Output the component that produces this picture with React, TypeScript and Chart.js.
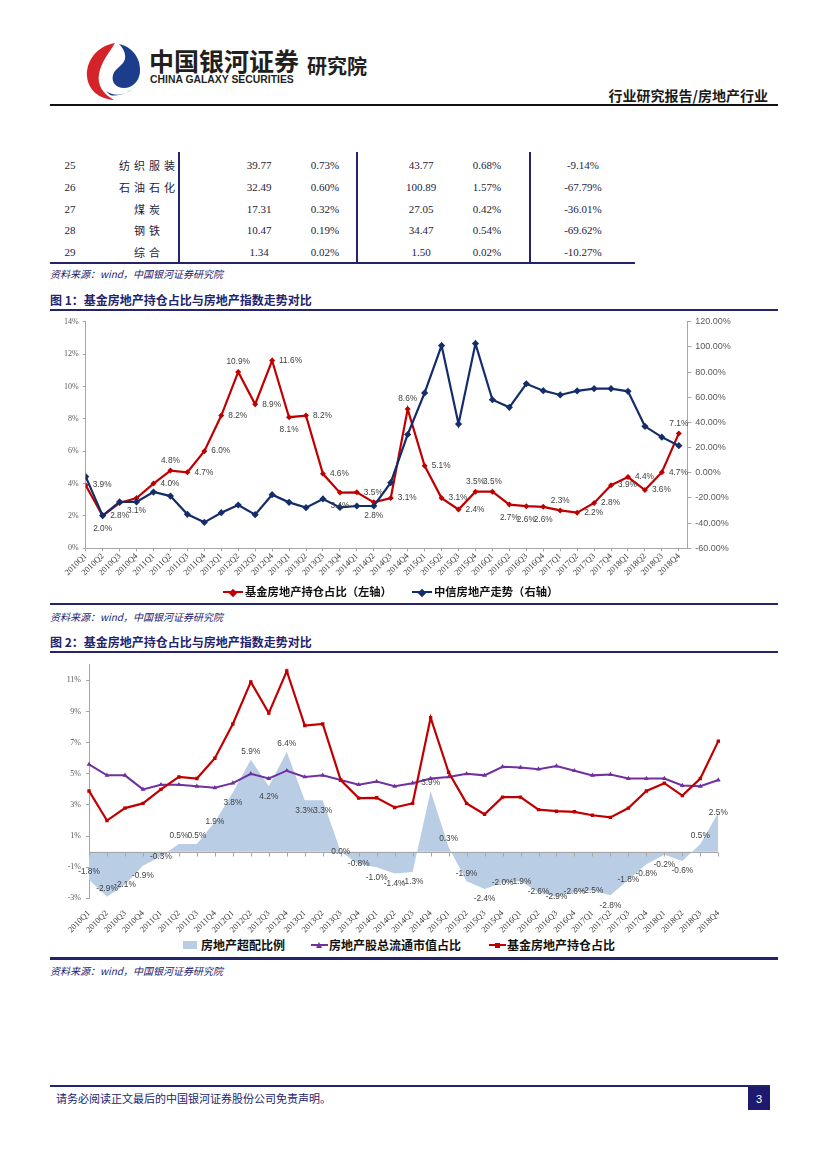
import React, { useEffect, useRef } from 'react';
import { Chart, registerables } from 'chart.js';

Chart.register(...registerables);

// ---------- data ----------
const quarters = [
  '2010Q1', '2010Q2', '2010Q3', '2010Q4', '2011Q1', '2011Q2', '2011Q3', '2011Q4',
  '2012Q1', '2012Q2', '2012Q3', '2012Q4', '2013Q1', '2013Q2', '2013Q3', '2013Q4',
  '2014Q1', '2014Q2', '2014Q3', '2014Q4', '2015Q1', '2015Q2', '2015Q3', '2015Q4',
  '2016Q1', '2016Q2', '2016Q3', '2016Q4', '2017Q1', '2017Q2', '2017Q3', '2017Q4',
  '2018Q1', '2018Q2', '2018Q3', '2018Q4',
];
// 基金房地产持仓占比 (%)
const fundShare = [
  3.9, 2.0, 2.8, 3.1, 4.0, 4.8, 4.7, 6.0, 8.2, 10.9, 8.9, 11.6, 8.1, 8.2, 4.6, 3.44,
  3.46, 2.84, 3.1, 8.6, 5.1, 3.1, 2.4, 3.5, 3.5, 2.7, 2.6, 2.56, 2.34, 2.2, 2.8, 3.9,
  4.4, 3.6, 4.7, 7.1,
];
// 中信房地产走势 (%，右轴)
const citicIndex = [
  -3.1, -34, -23.2, -23.2, -15.3, -18.5, -33, -39.4, -31.7, -25.6, -33.3, -17.4,
  -23.5, -27.7, -20.8, -27.5, -26.4, -26.4, -7.9, 30.4, 63.4, 101, 38.7, 102.6,
  58, 52, 70.7, 65.2, 61.8, 65, 66.8, 66.8, 64.7, 36.9, 28.3, 21.5,
];
// 房地产股总流通市值占比 (%)
const mktCapShare = [
  5.6, 4.9, 4.9, 4.0, 4.3, 4.3, 4.2, 4.1, 4.4, 5.0, 4.7, 5.2, 4.8, 4.9, 4.6, 4.3,
  4.5, 4.2, 4.4, 4.7, 4.8, 5.0, 4.9, 5.45, 5.4, 5.3, 5.5, 5.2, 4.9, 4.95, 4.7, 4.7,
  4.7, 4.25, 4.2, 4.6,
];
// 房地产超配比例 (%)
const overweight = [
  -1.8, -2.9, -2.1, -0.9, -0.3, 0.5, 0.5, 1.9, 3.8, 5.9, 4.2, 6.4, 3.3, 3.3, 0.0, -0.8,
  -1.0, -1.4, -1.3, 3.9, 0.3, -1.9, -2.4, -2.0, -1.9, -2.6, -2.9, -2.6, -2.5, -2.8, -1.8, -0.8,
  -0.2, -0.6, 0.5, 2.5,
];
// label placement keywords: r = right, a = above, b = below, c = centre
const fundLabelPlace = [
  'r', 'b', 'b', 'b', 'r', 'a', 'r', 'r', 'r', 'a', 'r', 'r', 'b', 'r', 'r', 'b',
  'r', 'b', 'r', 'a', 'r', 'r', 'r', 'a', 'a', 'b', 'b', 'b', 'a', 'r', 'r', 'r',
  'r', 'r', 'r', 'a',
];
const overweightLabelPlace = [
  'a', 'a', 'c', 'b', 'c', 'a', 'a', 'c', 'b', 'a', 'b', 'a', 'b', 'b', 'c', 'c',
  'b', 'b', 'b', 'a', 'a', 'a', 'b', 'c', 'c', 'c', 'c', 'c', 'c', 'b', 'c', 'b',
  'b', 'b', 'a', 'c',
];
const leftTicks1 = [0, 2, 4, 6, 8, 10, 12, 14];
const rightTicks1 = [-60, -40, -20, 0, 20, 40, 60, 80, 100, 120];
const leftTicks2 = [-3, -1, 1, 3, 5, 7, 9, 11];

// table
const tblNo = ['25', '26', '27', '28', '29'];
const tblName = ['纺织服装', '石油石化', '煤炭', '钢铁', '综合'];
const tblV1 = ['39.77', '32.49', '17.31', '10.47', '1.34'];
const tblP1 = ['0.73%', '0.60%', '0.32%', '0.19%', '0.02%'];
const tblV2 = ['43.77', '100.89', '27.05', '34.47', '1.50'];
const tblP2 = ['0.68%', '1.57%', '0.42%', '0.54%', '0.02%'];
const tblDiff = ['-9.14%', '-67.79%', '-36.01%', '-69.62%', '-10.27%'];

// ---------- styles ----------
const NAVY = '#23236e';
const RED = '#c00000';
const BLUE = '#142d6a';
const PURPLE = '#7030a0';
const AREA = '#b9cde5';
const AXIS = '#a6a6a6';
const CJK = '"Noto Sans CJK SC", "Noto Sans", sans-serif';
const SERIF = '"Liberation Serif", "DejaVu Serif", serif';
const SANS = '"Liberation Sans", Arial, sans-serif';

const pointLabels = {
  id: 'pointLabels',
  afterDatasetsDraw(chart: any) {
    const ctx = chart.ctx;
    chart.data.datasets.forEach((ds: any, di: number) => {
      const cfg = ds.pointLabelCfg;
      if (!cfg) return;
      const meta = chart.getDatasetMeta(di);
      ctx.save();
      ctx.font = cfg.font;
      ctx.fillStyle = cfg.color;
      ctx.textBaseline = 'middle';
      meta.data.forEach((el: any, i: number) => {
        const d = ds.data[i];
        const v = typeof d === 'number' ? d : d.y;
        const place = cfg.place[i];
        let x = el.x;
        let y = el.y;
        let align = 'center';
        if (place === 'r') { x += cfg.dx; align = 'left'; }
        else if (place === 'a') y -= cfg.dyAbove;
        else if (place === 'b') y += cfg.dyBelow;
        ctx.textAlign = align;
        ctx.fillText(v.toFixed(1) + '%', x, y);
      });
      ctx.restore();
    });
  },
};

const zeroAxis = {
  id: 'zeroAxis',
  afterDatasetsDraw(chart: any) {
    const opts = chart.options.plugins.zeroAxis;
    if (!opts || !opts.enabled) return;
    const ctx = chart.ctx;
    const xs = chart.scales.x;
    const ys = chart.scales.y;
    const y0 = Math.round(ys.getPixelForValue(0)) + 0.5;
    ctx.save();
    ctx.strokeStyle = AXIS;
    ctx.lineWidth = 1;
    ctx.beginPath();
    ctx.moveTo(chart.chartArea.left, y0);
    ctx.lineTo(chart.chartArea.right, y0);
    for (let i = 0; i < quarters.length; i++) {
      const x = Math.round(xs.getPixelForValue(i)) + 0.5;
      ctx.moveTo(x, y0);
      ctx.lineTo(x, y0 + 4);
    }
    ctx.stroke();
    ctx.restore();
  },
};

function Chart1() {
  const ref = useRef<HTMLCanvasElement>(null);
  useEffect(() => {
    const tickFont = { family: SERIF, size: 8 };
    const chart = new Chart(ref.current as HTMLCanvasElement, {
      type: 'line',
      data: {
        datasets: [
          {
            label: '基金房地产持仓占比（左轴）',
            data: fundShare.map((v, i) => ({ x: i, y: v })),
            yAxisID: 'y',
            borderColor: RED,
            backgroundColor: RED,
            borderWidth: 2.2,
            pointStyle: 'rectRot',
            pointRadius: 3,
            pointBorderWidth: 0,
            tension: 0,
            order: 2,
            pointLabelCfg: {
              place: fundLabelPlace,
              font: `8.3px ${SANS}`,
              color: '#404040',
              dx: 7,
              dyAbove: 10,
              dyBelow: 13,
            },
          } as any,
          {
            label: '中信房地产走势（右轴）',
            data: citicIndex.map((v, i) => ({ x: i, y: v })),
            yAxisID: 'y1',
            borderColor: BLUE,
            backgroundColor: BLUE,
            borderWidth: 2.2,
            pointStyle: 'rectRot',
            pointRadius: 3.6,
            pointBorderWidth: 0,
            tension: 0,
            order: 1,
          },
        ],
      },
      options: {
        animation: false,
        responsive: false,
        maintainAspectRatio: false,
        layout: { padding: { top: 9.7, left: 0, right: 0, bottom: 0 } },
        plugins: { legend: { display: false }, tooltip: { enabled: false } },
        scales: {
          x: {
            type: 'linear',
            min: 0,
            max: 35.5,
            afterBuildTicks: (s: any) => { s.ticks = quarters.map((_, i) => ({ value: i })); },
            afterFit: (s: any) => { s.height = 36.7; },
            ticks: {
              autoSkip: false,
              minRotation: 45,
              maxRotation: 45,
              padding: 0,
              font: { family: SERIF, size: 8.5 },
              color: '#333333',
              callback: (v: any) => quarters[v] ?? '',
            },
            grid: { display: true, drawOnChartArea: false, drawTicks: true, tickLength: 3, color: AXIS },
            border: { display: true, color: AXIS },
          },
          y: {
            position: 'left',
            min: 0,
            max: 14,
            afterBuildTicks: (s: any) => { s.ticks = leftTicks1.map((v) => ({ value: v })); },
            afterFit: (s: any) => { s.width = 35.7; },
            ticks: { font: tickFont, color: '#595959', padding: 4, callback: (v: any) => v + '%' },
            grid: { drawOnChartArea: false, tickLength: 3, color: AXIS },
            border: { color: AXIS },
          },
          y1: {
            position: 'right',
            min: -60,
            max: 120,
            afterBuildTicks: (s: any) => { s.ticks = rightTicks1.map((v) => ({ value: v })); },
            afterFit: (s: any) => { s.width = 90.7; },
            ticks: { font: { family: SANS, size: 9 }, color: '#595959', padding: 4, callback: (v: any) => Number(v).toFixed(2) + '%' },
            grid: { drawOnChartArea: false, tickLength: 4, color: AXIS },
            border: { color: AXIS },
          },
        },
      } as any,
      plugins: [pointLabels],
    });
    return () => chart.destroy();
  }, []);
  return (
    <canvas
      ref={ref}
      width={728}
      height={273}
      style={{ position: 'absolute', left: 50, top: 312, width: 728, height: 273 }}
    />
  );
}

function Chart2() {
  const ref = useRef<HTMLCanvasElement>(null);
  useEffect(() => {
    const tickFont = { family: SERIF, size: 8 };
    const chart = new Chart(ref.current as HTMLCanvasElement, {
      type: 'line',
      data: {
        labels: quarters,
        datasets: [
          {
            label: '基金房地产持仓占比',
            data: fundShare,
            borderColor: RED,
            backgroundColor: RED,
            borderWidth: 2.2,
            pointStyle: 'rect',
            pointRadius: 2.4,
            pointBorderWidth: 0,
            tension: 0,
            order: 1,
          },
          {
            label: '房地产股总流通市值占比',
            data: mktCapShare,
            borderColor: PURPLE,
            backgroundColor: PURPLE,
            borderWidth: 2,
            pointStyle: 'triangle',
            pointRadius: 2.8,
            pointBorderWidth: 0,
            tension: 0,
            order: 2,
          },
          {
            label: '房地产超配比例',
            data: overweight,
            fill: 'origin',
            backgroundColor: AREA,
            borderColor: AREA,
            borderWidth: 0,
            pointRadius: 0,
            tension: 0,
            order: 3,
            pointLabelCfg: {
              place: overweightLabelPlace,
              font: `8.3px ${SANS}`,
              color: '#404040',
              dx: 6,
              dyAbove: 8,
              dyBelow: 10,
            },
          } as any,
        ],
      },
      options: {
        animation: false,
        responsive: false,
        maintainAspectRatio: false,
        layout: { padding: { top: 9.4, left: 0, right: 59.7, bottom: 0 } },
        plugins: { legend: { display: false }, tooltip: { enabled: false }, zeroAxis: { enabled: true } },
        scales: {
          x: {
            type: 'category',
            offset: false,
            afterFit: (s: any) => { s.height = 36.6; },
            ticks: {
              autoSkip: false,
              minRotation: 45,
              maxRotation: 45,
              padding: 2,
              font: { family: SERIF, size: 8.5 },
              color: '#333333',
            },
            grid: { display: false },
            border: { display: false },
          },
          y: {
            position: 'left',
            min: -3,
            max: 12,
            afterBuildTicks: (s: any) => { s.ticks = leftTicks2.map((v) => ({ value: v })); },
            afterFit: (s: any) => { s.width = 39; },
            ticks: { font: tickFont, color: '#595959', padding: 5, callback: (v: any) => v + '%' },
            grid: { drawOnChartArea: false, tickLength: 3, color: AXIS },
            border: { color: AXIS },
          },
        },
      } as any,
      plugins: [zeroAxis, pointLabels],
    });
    return () => chart.destroy();
  }, []);
  return (
    <canvas
      ref={ref}
      width={728}
      height={280}
      style={{ position: 'absolute', left: 50, top: 655, width: 728, height: 280 }}
    />
  );
}

const abs = (o: any): React.CSSProperties => ({ position: 'absolute', ...o });

function Rule({ y, x1 = 50, x2 = 778, h = 2, color = NAVY }: any) {
  return <div style={abs({ left: x1, top: y, width: x2 - x1, height: h, background: color })} />;
}

function LineMarker({ x, y, color, shape }: any) {
  const marker =
    shape === 'diamond' ? (
      <div style={abs({ left: 7, top: -2.5, width: 6, height: 6, background: color, transform: 'rotate(45deg)' })} />
    ) : shape === 'square' ? (
      <div style={abs({ left: 6, top: -2, width: 5, height: 5, background: color })} />
    ) : (
      <div
        style={abs({
          left: 5, top: -3.5, width: 0, height: 0,
          borderLeft: '3.5px solid transparent', borderRight: '3.5px solid transparent',
          borderBottom: `6px solid ${color}`,
        })}
      />
    );
  return (
    <div style={abs({ left: x, top: y, width: 20, height: 1 })}>
      <div style={abs({ left: 0, top: -1, width: shape === 'diamond' ? 20 : 17, height: 2.2, background: color })} />
      {marker}
    </div>
  );
}

function Txt({ x, y, children, size = 11, weight = 400, color = '#222', family = CJK, align = 'left', italic = false, ls = 0 }: any) {
  const tx = align === 'center' ? 'translate(-50%, -50%)' : align === 'right' ? 'translate(-100%, -50%)' : 'translate(0, -50%)';
  return (
    <div
      style={abs({
        left: x, top: y, transform: tx, whiteSpace: 'nowrap', fontSize: size, fontWeight: weight,
        color, fontFamily: family, fontStyle: italic ? 'italic' : 'normal', letterSpacing: ls, lineHeight: 1,
      })}
    >
      {children}
    </div>
  );
}

function Logo() {
  return (
    <svg style={abs({ left: 84, top: 41 })} width={58} height={60} viewBox="0 0 58 60">
      <path d="M31 2 C13 5 2 20 3 35 C4 49 15 58 30 59 C19 53 13 44 15 33 C17 21 25 12 31 2 Z" fill="#d5232a" />
      <path d="M35 3 C49 6 57 18 56 31 C55 41 48 47 40 47 C32 47 27 41 29 34 C31 27 39 25 41 18 C42 12 39 7 35 3 Z" fill="#1c3c8c" />
      <path d="M22 50 C30 56 44 55 52 44 C46 52 34 56 26 54 Z" fill="#1c3c8c" />
    </svg>
  );
}

export default function App() {
  const rowY = (i: number) => 165 + i * 21.75;
  return (
    <div style={abs({ left: 0, top: 0, width: 827, height: 1169, background: '#fff', overflow: 'hidden' })}>
      {/* header */}
      <Logo />
      <Txt x={149} y={60} size={25} weight={700} color="#231f20" ls={0}>中国银河证券</Txt>
      <Txt x={150} y={80} size={10.4} weight={700} color="#231f20" family={SANS}>CHINA GALAXY SECURITIES</Txt>
      <Txt x={307} y={66} size={20} weight={700} color="#231f20">研究院</Txt>
      <Txt x={768} y={95} size={14} weight={700} color="#1a1a1a" align="right">行业研究报告/房地产行业</Txt>
      <Rule y={104} h={2} color="#111" />

      {/* table */}
      {[179, 357, 530].map((x) => (
        <div key={x} style={abs({ left: x - 1, top: 152, width: 2, height: 111, background: NAVY })} />
      ))}
      {tblNo.map((n, i) => (
        <React.Fragment key={n}>
          <Txt x={70} y={rowY(i)} size={11} family={SERIF} color="#1c1c3c" align="center">{n}</Txt>
          <Txt x={149} y={rowY(i)} size={11} color="#1c1c3c" align="center" ls={4}>{tblName[i]}</Txt>
          <Txt x={259} y={rowY(i)} size={11} family={SERIF} color="#1c1c3c" align="center">{tblV1[i]}</Txt>
          <Txt x={325} y={rowY(i)} size={11} family={SERIF} color="#1c1c3c" align="center">{tblP1[i]}</Txt>
          <Txt x={421} y={rowY(i)} size={11} family={SERIF} color="#1c1c3c" align="center">{tblV2[i]}</Txt>
          <Txt x={487} y={rowY(i)} size={11} family={SERIF} color="#1c1c3c" align="center">{tblP2[i]}</Txt>
          <Txt x={583} y={rowY(i)} size={11} family={SERIF} color="#1c1c3c" align="center">{tblDiff[i]}</Txt>
        </React.Fragment>
      ))}
      <Rule y={262} x2={635} h={2} />
      <Txt x={50} y={274} size={10} italic color={NAVY}>资料来源：wind，中国银河证券研究院</Txt>

      {/* figure 1 */}
      <Txt x={50} y={300} size={12} weight={700} color={NAVY}>图 1：基金房地产持仓占比与房地产指数走势对比</Txt>
      <Rule y={309} h={2} />
      <Chart1 />
      <LineMarker x={223} y={592} color={RED} shape="diamond" />
      <Txt x={245} y={592} size={11.3} weight={700} color="#111">基金房地产持仓占比（左轴）</Txt>
      <LineMarker x={412} y={592} color={BLUE} shape="diamond" />
      <Txt x={434} y={592} size={11.3} weight={700} color="#111">中信房地产走势（右轴）</Txt>
      <Rule y={603} h={2} />
      <Txt x={50} y={617} size={10} italic color={NAVY}>资料来源：wind，中国银河证券研究院</Txt>

      {/* figure 2 */}
      <Txt x={50} y={642} size={12} weight={700} color={NAVY}>图 2：基金房地产持仓占比与房地产指数走势对比</Txt>
      <Rule y={651} h={2} />
      <Chart2 />
      <div style={abs({ left: 183, top: 941, width: 14, height: 8, background: AREA })} />
      <Txt x={201} y={945} size={12} weight={700} color="#111">房地产超配比例</Txt>
      <LineMarker x={311} y={945} color={PURPLE} shape="triangle" />
      <Txt x={329} y={945} size={12} weight={700} color="#111">房地产股总流通市值占比</Txt>
      <LineMarker x={489} y={945} color={RED} shape="square" />
      <Txt x={507} y={945} size={12} weight={700} color="#111">基金房地产持仓占比</Txt>
      <Rule y={957} h={2.5} />
      <Txt x={50} y={971} size={10} italic color={NAVY}>资料来源：wind，中国银河证券研究院</Txt>

      {/* footer */}
      <Rule y={1085} x2={770} h={1.5} />
      <Txt x={56} y={1098} size={11} color={NAVY}>请务必阅读正文最后的中国银河证券股份公司免责声明。</Txt>
      <div style={abs({ left: 748, top: 1087, width: 22, height: 23, background: '#1f1a6e' })} />
      <Txt x={759} y={1099} size={11} color="#fff" family={SANS} align="center">3</Txt>
    </div>
  );
}
